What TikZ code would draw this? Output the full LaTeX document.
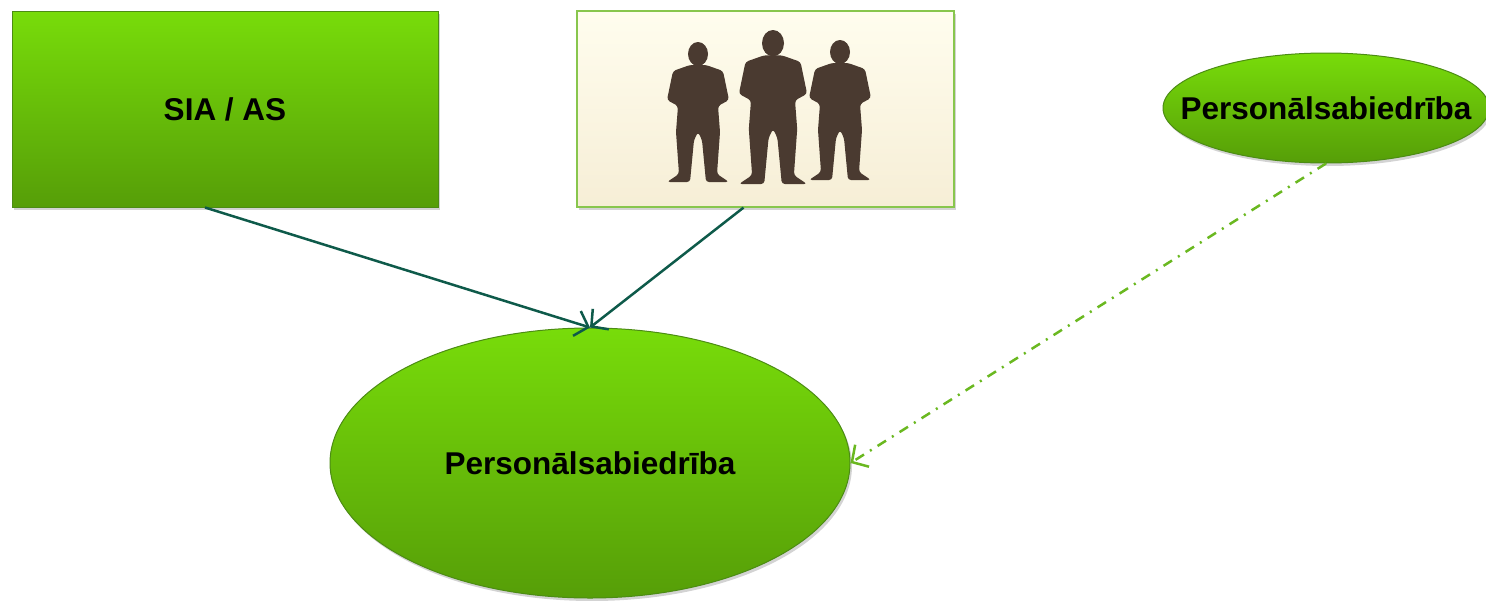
\documentclass[tikz,border=0pt]{standalone}
\usepackage{fontspec}
\setmainfont{Liberation Sans}
\usetikzlibrary{arrows.meta, shadows, shapes.geometric}

\definecolor{leafgreen}{RGB}{120,220,10}
\definecolor{mossgreen}{RGB}{86,158,8}
\definecolor{rimgreen}{RGB}{76,140,20}
\definecolor{tealline}{RGB}{14,90,74}
\definecolor{dashgreen}{RGB}{106,184,32}
\definecolor{cream}{RGB}{255,253,238}
\definecolor{sand}{RGB}{246,238,214}
\definecolor{umber}{RGB}{74,58,48}

\tikzset{
    greenbox/.style={draw=rimgreen, line width=1pt, top color=leafgreen, bottom color=mossgreen,
        drop shadow={shadow xshift=2pt, shadow yshift=-3pt, opacity=0.35},
        font=\fontsize{31.5}{34}\selectfont\bfseries},
    greenoval/.style={greenbox, ellipse, inner xsep=-60pt, inner ysep=0pt},
    photobox/.style={draw=dashgreen!80, line width=1.2pt, top color=cream, bottom color=sand,
        drop shadow={shadow xshift=2pt, shadow yshift=-3pt, opacity=0.35}},
    link/.style={draw=tealline, line width=2.5pt, -{Straight Barb[length=12pt, width=26pt]}},
    hint/.style={draw=dashgreen, line width=2.5pt, dash pattern=on 10pt off 7pt on 2pt off 7pt,
        -{Straight Barb[length=12pt, width=26pt]}}
}

\begin{document}
\begin{tikzpicture}[x=1pt, y=-1pt]
    \useasboundingbox (0,0) rectangle (1486,600);
    \node [greenbox, minimum width=426pt, minimum height=196pt] (sia) at (225,109) {SIA / AS};
    \node [photobox, minimum width=377pt, minimum height=196pt] (people) at (765.5,109) {};
    \foreach \px/\py/\s in {698/42/1, 773/30/1.1, 840/40/1}
    {
        \begin{scope}[shift={(\px,\py)}, scale=\s]
            \fill [umber] (0,12) ellipse (10pt and 12pt);
            \fill [umber, rounded corners=3pt] (-8,23) -- (-25,29) -- (-31,58) -- (-20,64) -- (-22,90)
                -- (-19,132) -- (-31,140) -- (-8,140) -- (-4,98) -- (0,90) -- (4,98) -- (8,140)
                -- (31,140) -- (19,132) -- (22,90) -- (20,64) -- (31,58) -- (25,29) -- (8,23) -- cycle;
        \end{scope}
    }
    \node [greenoval, minimum width=520pt, minimum height=270pt] (ps) at (590,463) {Personālsabiedrība};
    \node [greenoval, minimum width=326pt, minimum height=110pt] (psr) at (1326,108) {Personālsabiedrība};
    \draw [link] ([xshift=-20pt]sia.south) -- (ps.north);
    \draw [link] ([xshift=-22pt]people.south) -- (ps.north);
    \draw [hint] (psr.south) -- (ps.east);
\end{tikzpicture}
\end{document}
